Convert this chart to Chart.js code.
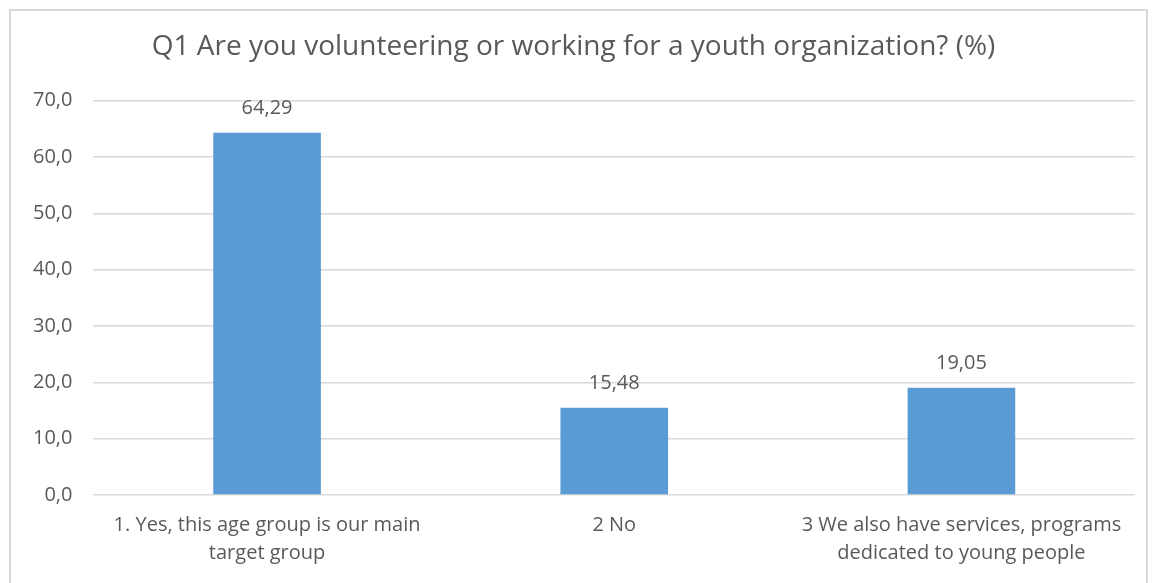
<!DOCTYPE html>
<html>
<head>
<meta charset="utf-8">
<script src="https://cdn.jsdelivr.net/npm/chart.js@4/dist/chart.umd.min.js"></script>
<style>
  html, body { margin: 0; padding: 0; background: #ffffff; overflow: hidden; }
  #wrap { position: relative; width: 1157px; height: 583px; }
  #frame { position: absolute; left: 9px; top: 9px; width: 1139px; height: 590px; border: 2px solid #d9d9d9; box-sizing: border-box; }
  canvas { position: absolute; left: 0; top: 0; }
</style>
</head>
<body>
<div id="wrap">
  <div id="frame"></div>
  <canvas id="chart" width="1157" height="583"></canvas>
</div>
<script>
  // Q1 answers (%)
  var categories = [
    ['1. Yes, this age group is our main', 'target group'],
    ['2 No'],
    ['3 We also have services, programs', 'dedicated to young people']
  ];
  var values = [64.29, 15.48, 19.05];
  var yTicks = [0, 10, 20, 30, 40, 50, 60, 70];

  var textColor = '#595959';
  var gridColor = '#d9d9d9';
  var barColor = '#5b9bd5';
  var fontFamily = "'Open Sans', 'Liberation Sans', sans-serif";

  function comma(n, d) {
    return n.toFixed(d).replace('.', ',');
  }

  // value labels above bars
  var valueLabels = {
    id: 'valueLabels',
    afterDatasetsDraw: function (chart) {
      var ctx = chart.ctx;
      var meta = chart.getDatasetMeta(0);
      ctx.save();
      ctx.font = '20px ' + fontFamily;
      ctx.fillStyle = textColor;
      ctx.textAlign = 'center';
      ctx.textBaseline = 'middle';
      meta.data.forEach(function (bar, i) {
        ctx.fillText(comma(values[i], 2), bar.x, bar.y - 24);
      });
      ctx.restore();
    }
  };

  new Chart(document.getElementById('chart'), {
    type: 'bar',
    data: {
      labels: categories,
      datasets: [{
        data: values,
        backgroundColor: barColor,
        borderWidth: 0,
        categoryPercentage: 1,
        barPercentage: 0.31
      }]
    },
    options: {
      responsive: false,
      animation: false,
      layout: { padding: { left: 12, right: 22, top: 20, bottom: 0 } },
      plugins: {
        legend: { display: false },
        tooltip: { enabled: false },
        title: {
          display: true,
          text: 'Q1 Are you volunteering or working for a youth organization? (%)',
          color: textColor,
          font: { family: fontFamily, size: 28, weight: 'normal' },
          padding: { top: 10, bottom: 37 }
        }
      },
      scales: {
        x: {
          grid: { display: false },
          border: { display: false },
          afterFit: function (axis) { axis.height = 88; },
          ticks: {
            color: textColor,
            font: { family: fontFamily, size: 20, lineHeight: 1.4 },
            padding: 8,
            maxRotation: 0,
            autoSkip: false
          }
        },
        y: {
          min: 0,
          max: 70,
          afterBuildTicks: function (axis) {
            axis.ticks = yTicks.map(function (v) { return { value: v }; });
          },
          grid: { color: gridColor, lineWidth: 1.5, drawTicks: false },
          border: { display: false },
          ticks: {
            color: textColor,
            font: { family: fontFamily, size: 20 },
            padding: 21,
            callback: function (v) { return comma(v, 1); }
          }
        }
      }
    },
    plugins: [valueLabels]
  });
</script>
</body>
</html>
